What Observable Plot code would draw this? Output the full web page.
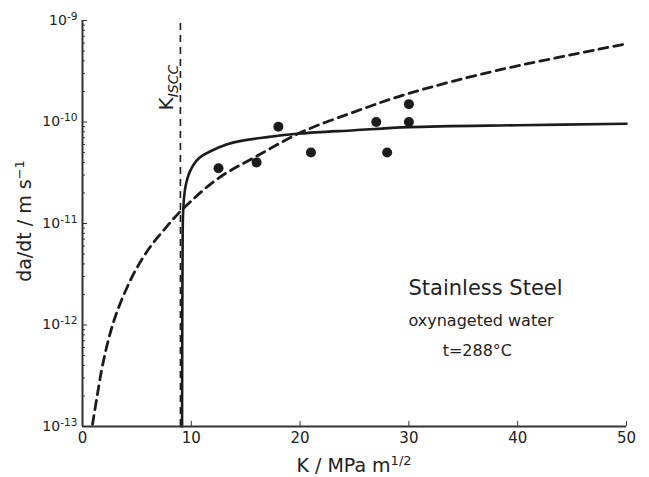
<!DOCTYPE html>
<html>
<head>
<meta charset="utf-8">
<script src="https://cdn.jsdelivr.net/npm/d3@7"></script>
<script src="https://cdn.jsdelivr.net/npm/@observablehq/plot@0.6"></script>
<style>
  html, body { margin: 0; padding: 0; background: #fff; }
  #chart { width: 649px; height: 477px; }
</style>
</head>
<body>
<div id="chart"></div>
<script>
// Measured crack growth rates (points)
const pointK = [12.5, 16, 18, 21, 27, 28, 30, 30];
const pointRate = [3.5e-11, 4e-11, 9e-11, 5e-11, 1e-10, 5e-11, 1.5e-10, 1e-10];

// Dashed curve
const powerK = [0.92, 1.38, 1.84, 2.45, 3.06, 3.98, 4.9, 6.13, 7.66, 9.19, 12.4, 16, 20.2, 25, 29.2, 33.8, 39.6, 50];
const powerRate = [1.05e-13, 2.1e-13, 4e-13, 7.6e-13, 1.25e-12, 2.2e-12, 3.5e-12, 5.7e-12, 9.1e-12, 1.38e-11, 2.75e-11, 4.6e-11, 8e-11, 1.26e-10, 1.8e-10, 2.48e-10, 3.5e-10, 5.9e-10];

// Solid curve
const thresholdK = [9.15, 9.17, 9.2, 9.25, 9.45, 9.9, 10.7, 12.5, 13.9, 17, 20, 25, 30, 40, 50];
const thresholdRate = [1e-13, 1e-12, 6e-12, 1.3e-11, 2.26e-11, 3.3e-11, 4.4e-11, 5.6e-11, 6.3e-11, 7.1e-11, 7.7e-11, 8.3e-11, 8.9e-11, 9.3e-11, 9.6e-11];

const kIscc = 9;

// Axis ticks
const xTicks = [0, 10, 20, 30, 40, 50];
const yTicks = [1e-13, 1e-12, 1e-11, 1e-10, 1e-9];
const yTickExponents = ["-13", "-12", "-11", "-10", "-9"];
const yMinorTicks = [];
for (const base of [1e-13, 1e-12, 1e-11, 1e-10]) for (const m of [2, 3, 4, 5, 6, 7, 8, 9]) yMinorTicks.push(base * m);

// Texts
const xLabel = ["K / MPa m", "1/2"];
const yLabel = ["da/dt / m s", "\u22121"];
const kLabel = ["K", "ISCC"];
const annotations = ["Stainless Steel", "oxynageted water", "t=288\u00B0C"];

const points = pointK.map((k, i) => ({k, rate: pointRate[i]}));
const power = powerK.map((k, i) => ({k, rate: powerRate[i]}));
const threshold = thresholdK.map((k, i) => ({k, rate: thresholdRate[i]}));

const ink = "#1c1c1c";

const chart = Plot.plot({
  width: 649,
  height: 477,
  marginLeft: 82,
  marginRight: 23,
  marginTop: 20,
  marginBottom: 51,
  style: {fontFamily: "'DejaVu Sans', sans-serif", fontSize: "14px", color: "#222", background: "#fff"},
  x: {domain: [0, 50], axis: null},
  y: {type: "log", domain: [1e-13, 1e-9], axis: null},
  marks: [
    Plot.ruleX([kIscc], {y1: 1e-13, y2: 9.5e-10, stroke: ink, strokeWidth: 1.6, strokeDasharray: "7,5"}),
    Plot.line(power, {x: "k", y: "rate", stroke: ink, strokeWidth: 2.8, strokeDasharray: "9,6", curve: "catmull-rom"}),
    Plot.line(threshold, {x: "k", y: "rate", stroke: ink, strokeWidth: 2.6, curve: "catmull-rom"}),
    Plot.dot(points, {x: "k", y: "rate", r: 5, fill: ink, stroke: "none"}),
    Plot.text([kIscc], {x: d => d, y: 1.3e-10, dx: -14, text: () => kLabel[0], rotate: -90, textAnchor: "start", fontSize: 20, fill: "#222"}),
    Plot.text([annotations[0]], {x: 29.96, y: 2.32e-12, text: d => d, textAnchor: "start", fontSize: 21, fill: "#222"}),
    Plot.text([annotations[1]], {x: 29.96, y: 1.1e-12, text: d => d, textAnchor: "start", fontSize: 16, fill: "#222"}),
    Plot.text([annotations[2]], {x: 33.1, y: 5.6e-13, text: d => d, textAnchor: "start", fontSize: 16, fill: "#222"}),
    Plot.axisY(yMinorTicks, {anchor: "left", tickSize: -3, tickFormat: () => "", label: null, stroke: "#333"}),
    Plot.axisY(yTicks, {anchor: "left", tickSize: -5, tickPadding: 10, tickFormat: (d) => "10^" + yTickExponents[yTicks.indexOf(d)], label: null, stroke: "#333", fontSize: 14}),
    Plot.axisX(xTicks, {anchor: "bottom", tickSize: -5, tickPadding: 11, label: null, stroke: "#333", fontSize: 15}),
    Plot.ruleX([0], {stroke: "#333", strokeWidth: 2}),
    Plot.ruleY([1e-13], {stroke: "#333", strokeWidth: 2})
  ]
});

document.getElementById("chart").appendChild(chart);

const svg = d3.select(chart);

svg.selectAll("text").each(function() {
  const t = this.textContent;
  const sel = d3.select(this);
  if (/^10\^/.test(t)) {
    // superscripts on y tick labels
    const [b, e] = t.split("^");
    this.textContent = b;
    sel.append("tspan").attr("dy", "-0.5em").attr("font-size", "0.76em").text(e);
  } else if (t === kLabel[0]) {
    // K_ISCC subscript
    sel.append("tspan").attr("dy", 5).attr("font-size", 14).attr("font-style", "italic").text(kLabel[1]);
  }
});

const xs = chart.scale("x"), ys = chart.scale("y");
const xMid = (xs.range[0] + xs.range[1]) / 2;
const yMid = (ys.range[0] + ys.range[1]) / 2;

// x axis label
const xl = svg.append("text")
  .attr("x", xMid).attr("y", ys.range[0] + 46)
  .attr("text-anchor", "middle")
  .attr("font-family", "'DejaVu Sans', sans-serif").attr("font-size", 19).attr("fill", "#222");
xl.append("tspan").text(xLabel[0]);
xl.append("tspan").attr("dy", "-0.55em").attr("font-size", 13).text(xLabel[1]);

// y axis label
const yl = svg.append("text")
  .attr("transform", `translate(31,${yMid - 2}) rotate(-90)`)
  .attr("text-anchor", "middle")
  .attr("font-family", "'DejaVu Sans', sans-serif").attr("font-size", 19).attr("fill", "#222");
yl.append("tspan").text(yLabel[0]);
yl.append("tspan").attr("dy", "-0.55em").attr("font-size", 13).text(yLabel[1]);
</script>
</body>
</html>
